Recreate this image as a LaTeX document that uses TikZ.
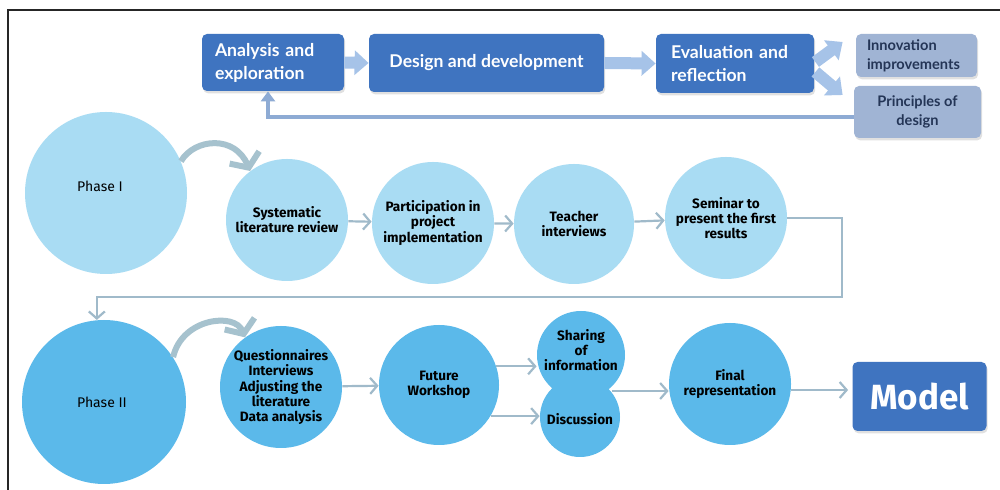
\documentclass[tikz,border=0pt]{standalone}
\usepackage{fontspec}
\setmainfont{Fira Sans}
\newfontfamily\boxfont{Lato}
\usetikzlibrary{arrows.meta,calc,shadows}
\definecolor{boxblue}{RGB}{63,116,192}
\definecolor{fatblue}{RGB}{166,195,232}
\definecolor{fbblue}{RGB}{142,171,212}
\definecolor{greybox}{RGB}{160,180,212}
\definecolor{navytext}{RGB}{36,53,86}
\definecolor{lightcirc}{RGB}{169,220,243}
\definecolor{darkcirc}{RGB}{91,185,234}
\definecolor{connc}{RGB}{160,186,202}
\definecolor{curvec}{RGB}{166,194,206}
\tikzset{
  topbox/.style={fill=boxblue, rounded corners=2.5pt, text=white,
    font=\boxfont\bfseries\fontsize{8.8}{11.5}\selectfont, inner sep=0pt,
    drop shadow={shadow xshift=0.6pt, shadow yshift=-1.2pt, opacity=0.12, fill=black}},
  greybx/.style={fill=greybox, rounded corners=2.5pt, text=navytext,
    font=\boxfont\bfseries\fontsize{7.3}{9.5}\selectfont, inner sep=0pt,
    drop shadow={shadow xshift=0.6pt, shadow yshift=-1.2pt, opacity=0.12, fill=black}},
  fatarrow/.style={draw=fatblue, line width=6pt, -{Triangle[length=7pt,width=12pt]}},
  fbline/.style={draw=fbblue, line width=2pt, -{Triangle[length=5pt,width=7pt]}},
  circL/.style={circle, fill=lightcirc, inner sep=0pt, align=center,
    font=\bfseries\fontsize{6.8}{7.6}\selectfont},
  circD/.style={circle, fill=darkcirc, inner sep=0pt, align=center,
    font=\bfseries\fontsize{6.8}{7.6}\selectfont},
  phasetxt/.style={font=\fontsize{7}{8}\selectfont},
  conn/.style={draw=connc, line width=1.1pt, -{Straight Barb[length=3.5pt,width=8pt]}},
  curvearr/.style={draw=curvec, line width=3pt, -{Straight Barb[length=5.5pt,width=16pt]}},
}
\begin{document}
\begin{tikzpicture}[x=0.5pt,y=-0.5pt]
\useasboundingbox (0,0) rectangle (1000,490);
\fill[white] (0,0) rectangle (1000,490);
\draw[line width=0.8pt, black!85] (8,490) -- (8,10) -- (1000,10);

% top row
\node[topbox, text width=58pt, inner xsep=6.5pt, minimum height=28.5pt, align=left] (ana) at (273,62.5) {Analysis and\\exploration};
\node[topbox, minimum width=117.5pt, minimum height=29pt, align=center] (des) at (486.5,63) {Design and development};
\node[topbox, text width=64pt, inner xsep=7.5pt, minimum height=29.5pt, align=left] (eva) at (735,63.5) {Evaluation and\\reflection};
\node[greybx, text width=49.5pt, inner xsep=5.5pt, minimum height=21.5pt, align=left] (inn) at (916.5,55.5) {Innovation\\improvements};
\node[greybx, minimum width=63.5pt, minimum height=26pt, align=center] (pri) at (917.5,112) {Principles of\\design};

\draw[fatarrow] (ana.east) -- (des.west);
\draw[fatarrow] (des.east) -- (eva.west);
\draw[fatarrow] ($(eva.east)+(1,-1.5)$) -- ($(inn.west)+(-13,-13.5)$);
\draw[fatarrow] ($(eva.east)+(1,8.5)$) -- ($(pri.west)+(-11,-17)$);
\coordinate (fb) at (268,117);
\draw[fbline] (pri.west |- fb) -- (fb) -- (fb |- ana.south);

% phase I row
\node[circL, minimum size=81pt] (ph1) at (106,193) {};
\node[phasetxt] (ph1t) at (100,186) {Phase I};
\node[circL, minimum size=61pt] (sys) at (287,220) {Systematic\\literature review};
\node[circL, minimum size=61pt] (par) at (433,223) {Participation in\\project\\implementation};
\node[circL, minimum size=60pt] (tea) at (574,224) {Teacher\\interviews};
\node[circL, minimum size=61pt] (sem) at (726,218) {Seminar to\\present the first\\results};

\draw[curvearr] (ph1.23) .. controls (195,138) and (235,135) .. (sys.127);
\draw[conn] (sys) -- (par);
\draw[conn] (par) -- (tea);
\draw[conn] (tea) -- (sem);

% phase II row
\node[circD, minimum size=82pt] (ph2) at (104,402) {};
\node[phasetxt] (ph2t) at (102,402) {Phase II};
\node[circD, minimum size=61pt] (que) at (281,387) {Questionnaires\\Interviews\\Adjusting the\\literature\\Data analysis};
\node[circD, minimum size=60pt] (fw) at (439,385) {Future\\Workshop};
\node[circD, minimum size=40pt] (dis) at (580,417) {};
\node[circD, minimum size=44pt] (sha) at (581,355) {};
\node[font=\bfseries\fontsize{6.8}{7.6}\selectfont, align=center, inner sep=0pt] (shat) at (581,350) {Sharing\\of\\information};
\node[font=\bfseries\fontsize{6.8}{7.6}\selectfont, inner sep=0pt] (dist) at (580,419) {Discussion};
\node[circD, minimum size=61pt] (fin) at (730,384) {Final\\representation};
\node[topbox, minimum width=67pt, minimum height=34.5pt, font=\bfseries\fontsize{17.5}{20}\selectfont] (mod) at (919.5,396.5) {Model};

\draw[curvearr] (ph2.33) .. controls (182,318) and (235,312) .. (que.126);
\draw[conn] (que) -- (fw);
\draw[conn] (fw.18) -- (fw.18 -| sha.west);
\draw[conn] (fw.-31) -- (fw.-31 -| dis.west);
\coordinate (sd) at (612,391);
\draw[conn] (sd) -- (sd -| fin.west);
\draw[conn] ($(fin.east)+(0,6)$) -- ($(fin.east -| mod.west)+(-4,6)$);
\coordinate (bend) at (842,297);
\draw[conn] (sem.east) -- (sem.east -| bend) -- (bend) -- (bend -| ph2.95) -- (ph2.95);
\end{tikzpicture}
\end{document}
